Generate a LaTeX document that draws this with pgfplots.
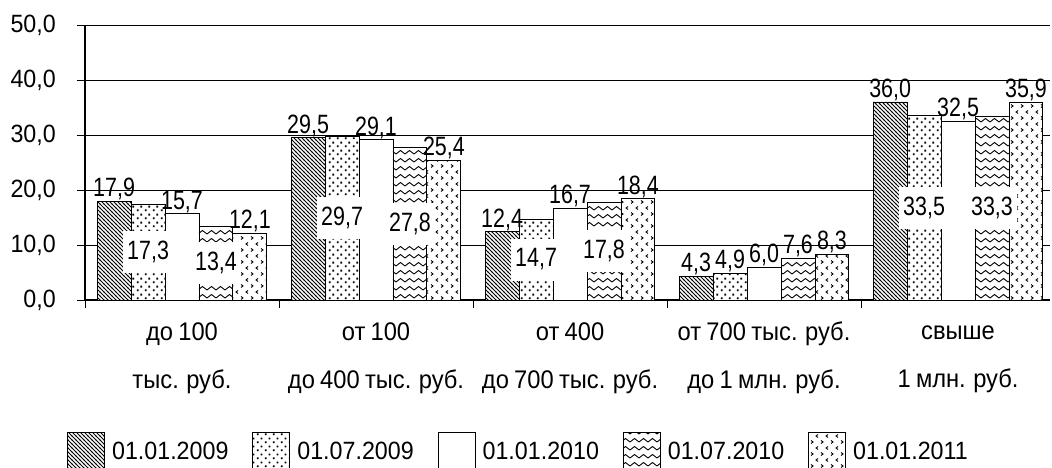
\documentclass[border=0pt]{standalone}
\usepackage{fontspec}
\setmainfont{Liberation Sans}[FakeStretch=0.93, WordSpace=0.8]
\newfontfamily\narrowfont{Liberation Sans}[FakeStretch=0.81]
\usepackage{pgfplots}
\pgfplotsset{compat=1.18}
\usetikzlibrary{patterns}

\pgfdeclarepatternformonly{nwl}{\pgfqpoint{-1pt}{-1pt}}{\pgfqpoint{5pt}{5pt}}{\pgfqpoint{4pt}{4pt}}{%
 \pgfsetlinewidth{1pt}\pgfpathmoveto{\pgfqpoint{-0.5pt}{4.5pt}}\pgfpathlineto{\pgfqpoint{4.5pt}{-0.5pt}}\pgfusepath{stroke}}
\pgfdeclarepatternformonly{sdots}{\pgfqpoint{0pt}{0pt}}{\pgfqpoint{8pt}{8pt}}{\pgfqpoint{8pt}{8pt}}{%
 \pgfpathrectangle{\pgfqpoint{1pt}{1pt}}{\pgfqpoint{2pt}{2pt}}\pgfpathrectangle{\pgfqpoint{5pt}{5pt}}{\pgfqpoint{2pt}{2pt}}\pgfusepath{fill}}
\pgfdeclarepatternformonly{zigzag}{\pgfqpoint{-1pt}{-1pt}}{\pgfqpoint{10pt}{9pt}}{\pgfqpoint{9pt}{8pt}}{%
 \pgfsetlinewidth{0.9pt}\pgfpathmoveto{\pgfqpoint{0pt}{2pt}}\pgfpathlineto{\pgfqpoint{4.5pt}{5.5pt}}\pgfpathlineto{\pgfqpoint{9pt}{2pt}}\pgfusepath{stroke}}
\pgfdeclarepatternformonly{chev}{\pgfqpoint{-1pt}{-1pt}}{\pgfqpoint{11pt}{13pt}}{\pgfqpoint{10pt}{12pt}}{%
 \pgfsetlinewidth{0.9pt}%
 \pgfpathmoveto{\pgfqpoint{1pt}{0.5pt}}\pgfpathlineto{\pgfqpoint{3pt}{2pt}}\pgfpathlineto{\pgfqpoint{1pt}{3.5pt}}%
 \pgfpathmoveto{\pgfqpoint{8pt}{6.5pt}}\pgfpathlineto{\pgfqpoint{6pt}{8pt}}\pgfpathlineto{\pgfqpoint{8pt}{9.5pt}}%
 \pgfusepath{stroke}}

\newcommand{\lblfont}{\narrowfont\fontsize{26.5}{30}\selectfont}

\begin{document}
\begin{tikzpicture}
\begin{axis}[
  at={(85pt,168pt)}, anchor=south west,
  scale only axis, width=965pt, height=275pt,
  xmin=-0.5, xmax=4.474, ymin=0, ymax=50,
  axis x line*=bottom, axis y line*=left,
  axis line style={-, line width=1.2pt, black},
  ytick={0,10,...,50}, ymajorgrids,
  grid style={black, line width=0.8pt},
  tick align=outside, major tick length=8pt,
  tick style={black, line width=0.8pt},
  xtick={-0.5,0.5,1.5,2.5,3.5}, xticklabels={},
  extra x ticks={0,1,2,3,4},
  extra x tick labels={{до 100\\тыс. руб.},{от 100\\до 400 тыс. руб.},{от 400\\до 700 тыс. руб.},{от 700 тыс. руб.\\до 1 млн. руб.},{\vphantom{1}свыше\\1 млн. руб.}},
  extra x tick style={major tick length=0pt},
  xticklabel style={font=\fontsize{25.5}{48}\selectfont, align=center, inner sep=0pt, anchor=north, yshift=-22pt},
  yticklabel style={font=\fontsize{25}{30}\selectfont, inner sep=0pt, anchor=east, xshift=-21pt},
  /pgf/number format/.cd, fixed, fixed zerofill, precision=1, use comma, assume math mode=true, /pgfplots/.cd,
  legend columns=5,
  legend style={draw=none, fill=none, inner sep=0pt, row sep=0pt,
    at={(axis description cs:-0.01865,-0.48)}, anchor=north west,
    font=\fontsize{25}{30}\selectfont,
    nodes={inner sep=0pt},
    /tikz/every odd column/.append style={column sep=7pt},
    /tikz/every even column/.append style={column sep=24pt}},
  legend image code/.code={\draw[#1, line width=0.9pt] (0pt,-18.5pt) rectangle (37pt,18.5pt);},
  bar width=0.175,
  toplbl/.style={draw=none, mark=none, forget plot, point meta=y, nodes near coords,
    every node near coord/.append style={font=\lblfont, inner sep=1pt, anchor=south}},
  midlbl/.style={draw=none, mark=none, forget plot, point meta=explicit, nodes near coords,
    every node near coord/.append style={font=\lblfont, anchor=center, fill=white, inner xsep=4pt, minimum height=42pt}},
]
% bars
\addplot[ybar, bar shift=-0.35, draw=black, line width=0.9pt, fill=white, postaction={pattern=nwl}]
  coordinates {(0,17.9) (1,29.5) (2,12.4) (3,4.3) (4,36.0)};
\addplot[ybar, bar shift=-0.175, draw=black, line width=0.9pt, fill=white, postaction={pattern=sdots}]
  coordinates {(0,17.3) (1,29.7) (2,14.7) (3,4.9) (4,33.5)};
\addplot[ybar, bar shift=0, draw=black, line width=0.9pt, fill=white]
  coordinates {(0,15.7) (1,29.1) (2,16.7) (3,6.0) (4,32.5)};
\addplot[ybar, bar shift=0.175, draw=black, line width=0.9pt, fill=white, postaction={pattern=zigzag}]
  coordinates {(0,13.4) (1,27.8) (2,17.8) (3,7.6) (4,33.3)};
\addplot[ybar, bar shift=0.35, draw=black, line width=0.9pt, fill=white, postaction={pattern=chev}]
  coordinates {(0,12.1) (1,25.4) (2,18.4) (3,8.3) (4,35.9)};
\legend{01.01.2009,01.07.2009,01.01.2010,01.07.2010,01.01.2011}
% labels above bars (x = group + bar offset)
\addplot[toplbl] coordinates {(-0.35,17.9) (0.65,29.5) (1.65,12.4) (2.65,4.3) (3.65,36.0)};
\addplot[toplbl] coordinates {(2.825,4.9)};
\addplot[toplbl] coordinates {(0,15.7) (1,29.1) (2,16.7) (3,6.0) (4,32.5)};
\addplot[toplbl] coordinates {(3.175,7.6)};
\addplot[toplbl] coordinates {(0.35,12.1) (1.35,25.4) (2.35,18.4) (3.35,8.3) (4.35,35.9)};
% labels inside bars (placed at half height)
\addplot[midlbl] coordinates {(-0.175,8.65) [17.3] (0.825,14.85) [29.7] (1.825,7.35) [14.7] (3.825,16.75) [33.5]};
\addplot[midlbl] coordinates {(0.175,6.7) [13.4] (1.175,13.9) [27.8] (2.175,8.9) [17.8] (4.175,16.65) [33.3]};
\end{axis}
\pgfresetboundingbox
\path[use as bounding box] (0,0) rectangle (1052pt,468pt);
\end{tikzpicture}
\end{document}
